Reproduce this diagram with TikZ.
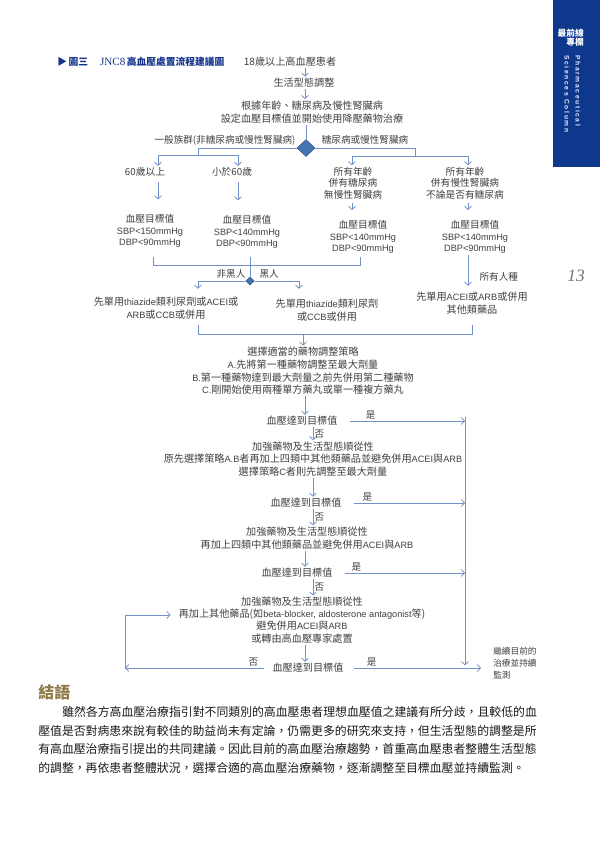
\documentclass[tikz,border=0pt]{standalone}
\usepackage{fontspec}
\setmainfont{Noto Sans CJK TC}
\newfontfamily\latinserif{Liberation Serif}
\newfontfamily\latinsans{Liberation Sans}
\newfontfamily\sidefont[LetterSpace=25]{Liberation Sans}
\usetikzlibrary{positioning, arrows.meta, shapes.geometric, calc}

\definecolor{flowblue}{RGB}{112,146,200}
\definecolor{diablue}{RGB}{70,116,178}
\definecolor{barblue}{RGB}{14,56,140}
\definecolor{titleblue}{RGB}{22,52,140}
\definecolor{headolive}{RGB}{140,122,72}
\newcommand{\en}[1]{{\latinsans\fontsize{6.9}{9.3}\selectfont #1}}

\begin{document}
\begin{tikzpicture}[x=0.75pt, y=-0.75pt,
    txt/.style={align=center, inner sep=1pt, text=black!75, font=\fontsize{7.6}{9.4}\selectfont},
    col/.style={txt, font=\fontsize{7.3}{8.7}\selectfont},
    lbl/.style={inner sep=1pt, text=black!75, font=\fontsize{7.2}{8}\selectfont},
    line/.style={draw=flowblue, line width=0.6pt},
    arr/.style={line, -{Straight Barb[length=2.4pt, width=5.2pt]}},
    decision/.style={diamond, draw=diablue!75!black, fill=diablue, inner sep=0pt},
    para/.style={anchor=west, inner sep=0pt, text=black!90, font=\fontsize{8.9}{10}\selectfont},
    side/.style={anchor=west, rotate=-90, inner sep=0pt, text=blue!8!white, font=\sidefont\bfseries\fontsize{5}{6}\selectfont}
]
\useasboundingbox (0,0) rectangle (600,850);
% column bar and page number
\fill[barblue] (553,0) rectangle (600,167);
\node[anchor=east, inner sep=0pt, text=white, font=\bfseries\fontsize{6.5}{7}\selectfont] (col1) at (584,33) {最前線};
\node[anchor=east, inner sep=0pt, text=white, font=\bfseries\fontsize{6.5}{7}\selectfont] (col2) at (584,42) {專欄};
\node[side] (pharm) at (578,55) {Pharmaceutical};
\node[side] (scol) at (567,55) {Sciences Column};
\node[inner sep=0pt, text=black!55, font=\latinserif\itshape\fontsize{13}{13}\selectfont] (page) at (576,276) {13};

% figure title
\node[anchor=west, inner sep=0pt, text=titleblue, font=\bfseries\fontsize{7.3}{8}\selectfont] (fig) at (57,62)
  {▶\,圖三\hspace{9pt}{\latinserif\mdseries\fontsize{8.3}{8}\selectfont JNC8}\,高血壓處置流程建議圖};

% top of the chart
\node[txt] (start) at (290,62) {18歲以上高血壓患者};
\node[txt] (life) at (304,83) {生活型態調整};
\node[txt, font=\fontsize{7.6}{9.8}\selectfont] (goal) at (312,112) {根據年齡、糖尿病及慢性腎臟病\\設定血壓目標值並開始使用降壓藥物治療};
\coordinate (ax) at (305,0);
\draw[arr] (start.south -| ax) -- (life.north -| ax);
\draw[arr] (life.south -| ax) -- (goal.north -| ax);

% first decision: general population or diabetes / CKD
\node[decision, minimum width=13.5pt, minimum height=12.75pt] (dia1) at (306,148) {};
\draw[line] (goal.south -| dia1) -- (dia1.north);
\node[lbl] (gen) at (225,140) {一般族群(非糖尿病或慢性腎臟病)};
\node[lbl] (dmckd) at (365,140) {糖尿病或慢性腎臟病};

% four groups and their targets
\coordinate (c1) at (158,0);
\coordinate (c2) at (238,0);
\coordinate (c3) at (352,0);
\coordinate (c4) at (468,0);
\coordinate (lb) at (198,155);
\coordinate (rb) at (415,156);
\node[col] (old) at (145,172) {60歲以上};
\node[col] (young) at (232,172) {小於60歲};
\node[col] (dm) at (353,183) {所有年齡\\併有糖尿病\\無慢性腎臟病};
\node[col] (ckd) at (465,183) {所有年齡\\併有慢性腎臟病\\不論是否有糖尿病};
\draw[line] (dia1.west) -| (lb);
\draw[line] (dia1.east) -| (rb);
\draw[arr] (lb) -| (old.north -| c1);
\draw[arr] (lb) -| (young.north -| c2);
\draw[arr] (rb) -| (dm.north -| c3);
\draw[arr] (rb) -| (ckd.north -| c4);

\node[col] (t1) at (150,231) {血壓目標值\\\en{SBP<150mmHg}\\\en{DBP<90mmHg}};
\node[col] (t2) at (247,232) {血壓目標值\\\en{SBP<140mmHg}\\\en{DBP<90mmHg}};
\node[col] (t3) at (363,237) {血壓目標值\\\en{SBP<140mmHg}\\\en{DBP<90mmHg}};
\node[col] (t4) at (475,237) {血壓目標值\\\en{SBP<140mmHg}\\\en{DBP<90mmHg}};
\draw[arr, shorten <=3pt, shorten >=10pt] (old.south -| c1) -- (t1.north -| c1);
\draw[arr, shorten <=3pt, shorten >=10pt] (young.south -| c2) -- (t2.north -| c2);
\draw[arr, shorten <=1.5pt, shorten >=6.5pt] (dm.south -| c3) -- (t3.north -| c3);
\draw[arr, shorten <=1.5pt, shorten >=6.5pt] (ckd.south -| c4) -- (t4.north -| c4);

% race decision
\coordinate (m1) at (153,257);
\coordinate (m2) at (250,257);
\coordinate (m3) at (360,257);
\coordinate (mbar) at (0,265);
\draw[line] (m1) |- (m3 |- mbar) -- (m3);
\node[decision, minimum width=6.5pt, minimum height=6pt] (dia2) at (250,281) {};
\draw[line] (m2) -- (dia2.north);
\node[lbl, anchor=east] (nonblack) at (247,274) {非黑人};
\node[lbl, anchor=west] (black) at (258,274) {黑人};

% first drug choice
\coordinate (d2l) at (198,0);
\coordinate (d2r) at (299,0);
\node[txt] (nb) at (166,308) {先單用\en{thiazide}類利尿劑或\en{ACEI}或\\\en{ARB}或\en{CCB}或併用};
\node[txt] (bl) at (327,310) {先單用\en{thiazide}類利尿劑\\或\en{CCB}或併用};
\node[txt] (all) at (472,303) {先單用\en{ACEI}或\en{ARB}或併用\\其他類藥品};
\draw[arr, shorten >=5pt] (dia2.west) -| (nb.north -| d2l);
\draw[arr, shorten >=6.5pt] (dia2.east) -| (bl.north -| d2r);
\draw[arr, shorten >=3.5pt] (t4.south -| c4) -- (all.north -| c4);
\node[lbl, anchor=west] (race) at (478,277) {所有人種};

% adjust strategy
\coordinate (n1) at (198,325);
\coordinate (n3) at (472,325);
\coordinate (nbar) at (0,334);
\coordinate (ax2) at (303,0);
\coordinate (ax3) at (313,0);
\draw[line] (n1) |- (n3 |- nbar) -- (n3);
\node[txt, font=\fontsize{7.6}{9.5}\selectfont] (plan) at (303,371) {選擇適當的藥物調整策略\\\en{A.}先將第一種藥物調整至最大劑量\\\en{B.}第一種藥物達到最大劑量之前先併用第二種藥物\\\en{C.}剛開始使用兩種單方藥丸或單一種複方藥丸};
\draw[arr] (ax2 |- nbar) -- (plan.north -| ax2);

% follow-up loop
\node[txt] (chk1) at (302,421) {血壓達到目標值};
\node[txt] (step2) at (313,459) {加強藥物及生活型態順從性\\原先選擇策略\en{A.B}者再加上四類中其他類藥品並避免併用\en{ACEI}與\en{ARB}\\選擇策略\en{C}者則先調整至最大劑量};
\node[txt] (chk2) at (306,503) {血壓達到目標值};
\node[txt] (step3) at (307,538) {加強藥物及生活型態順從性\\再加上四類中其他類藥品並避免併用\en{ACEI}與\en{ARB}};
\node[txt] (chk3) at (297,573) {血壓達到目標值};
\node[txt, font=\fontsize{7.6}{9.1}\selectfont] (step4) at (302,620) {加強藥物及生活型態順從性\\再加上其他藥品(如\en{beta-blocker, aldosterone antagonist}等)\\避免併用\en{ACEI}與\en{ARB}\\或轉由高血壓專家處置};
\node[txt] (chk4) at (308,668) {血壓達到目標值};
\node[anchor=west, align=left, inner sep=0pt, text=black!75, font=\fontsize{6.5}{9}\selectfont] (goon) at (493,663) {繼續目前的\\治療並持續\\監測};

\draw[arr] (plan.south -| ax) -- (chk1.north -| ax);
\draw[arr] (chk1.south -| ax3) -- (step2.north -| ax3) node[lbl, right, midway] {否};
\draw[arr] (step2.south -| ax3) -- (chk2.north -| ax3);
\draw[arr] (chk2.south -| ax3) -- (step3.north -| ax3) node[lbl, right, midway] {否};
\draw[arr] (step3.south -| ax) -- (chk3.north -| ax);
\draw[arr] (chk3.south -| ax3) -- (step4.north -| ax3) node[lbl, right, midway] {否};
\draw[arr] (step4.south -| ax) -- (chk4.north -| ax);

% yes branches to the right trunk
\coordinate (tr) at (465,417);
\draw[arr, shorten >=2pt] (tr) -- (tr |- chk4);
\draw[arr, shorten <=8pt] (chk1.east) -- (chk1 -| tr) node[lbl, above, pos=.25] {是};
\draw[arr, shorten <=8pt] (chk2.east) -- (chk2 -| tr) node[lbl, above, pos=.2] {是};
\draw[arr, shorten <=8pt] (chk3.east) -- (chk3 -| tr) node[lbl, above, pos=.17] {是};
\draw[arr, shorten <=7pt, shorten >=9pt] (chk4.east) -- (chk4 -| goon.west) node[lbl, above, pos=.18] {是};

% no branch loops back
\coordinate (lc) at (125,668);
\draw[arr, shorten <=5pt] (chk4.west) -- (lc) node[lbl, above, pos=.12] {否};
\draw[arr, shorten >=5pt] (lc) |- ([yshift=3.75pt]step4.west);

% conclusion
\node[anchor=west, inner sep=0pt, text=headolive, font=\bfseries\fontsize{12}{12}\selectfont] (concl) at (38,692) {結語};
\node[para] (p1) at (62,712) {雖然各方高血壓治療指引對不同類別的高血壓患者理想血壓值之建議有所分歧，且較低的血};
\node[para] (p2) at (38,730.5) {壓值是否對病患來說有較佳的助益尚未有定論，仍需更多的研究來支持，但生活型態的調整是所};
\node[para] (p3) at (38,749) {有高血壓治療指引提出的共同建議。因此目前的高血壓治療趨勢，首重高血壓患者整體生活型態};
\node[para] (p4) at (38,767.5) {的調整，再依患者整體狀況，選擇合適的高血壓治療藥物，逐漸調整至目標血壓並持續監測。};
\end{tikzpicture}
\end{document}
